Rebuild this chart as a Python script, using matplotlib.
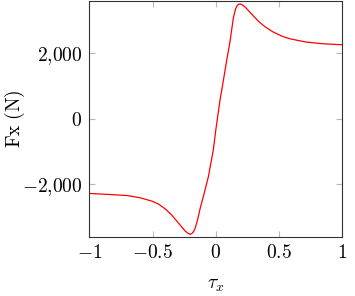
import matplotlib
matplotlib.use("Agg")
import matplotlib.pyplot as plt
from matplotlib.ticker import FixedLocator, FixedFormatter

plt.rcParams['mathtext.fontset'] = 'cm'
plt.rcParams['font.family'] = 'serif'
plt.rcParams['font.serif'] = ['cmr10', 'DejaVu Serif']
plt.rcParams['axes.formatter.use_mathtext'] = True

tau = [-1.0, -0.85, -0.7, -0.6, -0.5, -0.45, -0.4, -0.35, -0.3, -0.27,
       -0.243, -0.22, -0.204, -0.19, -0.175, -0.164, -0.145, -0.125, -0.09,
       -0.059, -0.02, 0.0, 0.033, 0.06, 0.086, 0.112, 0.138, 0.155, 0.17,
       0.19, 0.21, 0.235, 0.257, 0.3, 0.34, 0.39, 0.45, 0.52, 0.586, 0.65,
       0.72, 0.85, 1.0]
fx = [-2280, -2310, -2345, -2410, -2520, -2610, -2750, -2930, -3160, -3300,
      -3421, -3495, -3525, -3505, -3440, -3349, -3100, -2760, -2250,
      -1778, -965, -350, 557, 1166, 1775, 2340, 3050, 3330, 3460,
      3500, 3470, 3390, 3300, 3120, 2960, 2800, 2650, 2520, 2435, 2385,
      2333, 2283, 2253]

xticks = [-1, -0.5, 0, 0.5, 1]
xticklabels = [r'$-1$', r'$-0.5$', r'$0$', r'$0.5$', r'$1$']
yticks = [-2000, 0, 2000]
yticklabels = [r'$-2{,}000$', r'$0$', r'$2{,}000$']

fig = plt.figure(figsize=(3.55, 2.96), dpi=100)
ax = fig.add_axes([0.2515, 0.198, 0.7127, 0.800])
ax.plot(tau, fx, color='red', linewidth=0.9)
ax.set_xlim(-1, 1)
ax.set_ylim(-3620, 3600)

ax.xaxis.set_major_locator(FixedLocator(xticks))
ax.xaxis.set_major_formatter(FixedFormatter(xticklabels))
ax.yaxis.set_major_locator(FixedLocator(yticks))
ax.yaxis.set_major_formatter(FixedFormatter(yticklabels))

ax.tick_params(direction='in', length=4, width=0.8, color='#b8b8b8',
               top=True, right=True, labelsize=14, pad=5)
for s in ax.spines.values():
    s.set_color('#333333')
    s.set_linewidth(0.8)

ax.set_xlabel(r'$\tau_x$', fontsize=14)
ax.xaxis.set_label_coords(0.5, -0.165)
ax.set_ylabel(r'$\mathrm{Fx\ (N)}$', fontsize=14)
ax.yaxis.set_label_coords(-0.245, 0.5)

fig.savefig('out.png', dpi=100)
